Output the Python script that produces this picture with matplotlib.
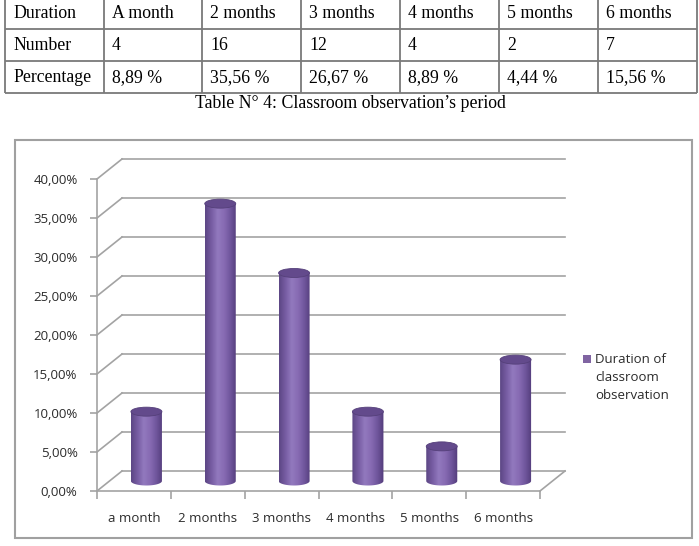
import numpy as np
import matplotlib
matplotlib.use("Agg")
import matplotlib.pyplot as plt
from matplotlib.patches import Rectangle, Ellipse, PathPatch
from matplotlib.path import Path
from matplotlib.colors import LinearSegmentedColormap
from matplotlib.transforms import ScaledTranslation

# ---------------- data ----------------
durations = ["A month", "2 months", "3 months", "4 months", "5 months", "6 months"]
numbers = [4, 16, 12, 4, 2, 7]
percentages = [8.89, 35.56, 26.67, 8.89, 4.44, 15.56]
categories = ["a month", "2 months", "3 months", "4 months", "5 months", "6 months"]
y_ticks = [0, 5, 10, 15, 20, 25, 30, 35, 40]
series_name = "Duration of\nclassroom\nobservation"
caption = "Table N° 4: Classroom observation\u2019s period"

W, H, DPI = 699, 546, 100
fig = plt.figure(figsize=(W / DPI, H / DPI), dpi=DPI)
fig.patch.set_facecolor("white")

def fx(px):
    return px / W

def fy(py):
    return 1 - py / H

# ---------------- table (pixel axes) ----------------
axt = fig.add_axes([0, 0, 1, 1])
axt.set_xlim(0, W)
axt.set_ylim(H, 0)
axt.axis("off")
tcol = "#7a7a7a"
col_x = [5, 104, 202, 301, 400, 499, 598, 697]
row_y = [-3, 29, 61, 93]
for x in col_x:
    axt.plot([x, x], [row_y[0], row_y[-1]], color=tcol, lw=1.3, solid_capstyle="butt")
for y in row_y:
    axt.plot([col_x[0], col_x[-1]], [y, y], color=tcol, lw=1.3, solid_capstyle="butt")
rows = [["Duration"] + durations,
        ["Number"] + [str(n) for n in numbers],
        ["Percentage"] + [("%.2f" % p).replace(".", ",") + " %" for p in percentages]]
for r, row in enumerate(rows):
    yc = (row_y[r] + row_y[r + 1]) / 2 + 1
    for c, txt in enumerate(row):
        axt.text(col_x[c] + 8, yc, txt, ha="left", va="center",
                 fontsize=12.8, family="Liberation Serif", color="black")
axt.text(350, 103, caption, ha="center", va="center",
         fontsize=12.8, family="Liberation Serif", color="black")

# chart outer frame
fig.add_artist(Rectangle((fx(15), fy(538)), fx(692) - fx(15), fy(140) - fy(538),
                         transform=fig.transFigure, fill=False,
                         edgecolor="#a0a0a0", lw=1.5))

# ---------------- chart axes (front plane) ----------------
x_left, x_right, y_zero, y_top = 97, 540, 491, 179
ax = fig.add_axes([fx(x_left), fy(y_zero), fx(x_right) - fx(x_left), fy(y_top) - fy(y_zero)])
ax.set_facecolor("none")
n = len(categories)
ax.set_xlim(-0.5, n - 0.5)
ax.set_ylim(0, 40)

grid_c = "#a3a3a3"
font = "Open Sans"
fs = 9.5
txt_c = "#2b2b2b"
DX, DY = 25, 20  # depth offset in pixels
back = ax.transData + ScaledTranslation(DX / DPI, DY / DPI, fig.dpi_scale_trans)
mid = ax.transData + ScaledTranslation(DX / 2 / DPI, DY / 2 / DPI, fig.dpi_scale_trans)

for s in ["top", "right"]:
    ax.spines[s].set_visible(False)
for s in ["left", "bottom"]:
    ax.spines[s].set_color(grid_c)
    ax.spines[s].set_linewidth(1.2)

ax.set_yticks(y_ticks)
ax.set_yticklabels([("%.2f" % v).replace(".", ",") + "%" for v in y_ticks],
                   fontsize=fs, family=font, color=txt_c)
ax.tick_params(axis="y", direction="out", length=5, width=1.2, color=grid_c, pad=9)

ax.set_xticks(np.arange(n + 1) - 0.5)
ax.set_xticklabels([])
ax.tick_params(axis="x", which="major", direction="out", length=6, width=1.2, color=grid_c)
ax.set_xticks(np.arange(n), minor=True)
ax.set_xticklabels(categories, minor=True, fontsize=fs, family=font, color=txt_c)
ax.tick_params(axis="x", which="minor", length=0, pad=15)

# back-wall gridlines and left-side diagonals
for v in y_ticks:
    ax.plot([-0.5, n - 0.5], [v, v], color=grid_c, lw=1.2, transform=back, clip_on=False)
    p0 = ax.transData.transform((-0.5, v))
    ax.plot([p0[0], p0[0] + DX], [p0[1], p0[1] + DY], color=grid_c, lw=1.2,
            transform=None, clip_on=False)
# floor right edge
p0 = ax.transData.transform((n - 0.5, 0))
ax.plot([p0[0], p0[0] + DX], [p0[1], p0[1] + DY], color=grid_c, lw=1.2,
        transform=None, clip_on=False)

# ---------------- cylinders ----------------
px_per_unit_y = (y_zero - y_top) / 40.0
bw = 0.42
eh = 9 / px_per_unit_y
cmap = LinearSegmentedColormap.from_list(
    "cyl", ["#5c4684", "#765ca2", "#9279be", "#876bb3", "#6f559c", "#523c7a"])
grad = cmap(np.linspace(0, 1, 256))[None, :, :]

for i, v in enumerate(percentages):
    xl, xr = i - bw / 2, i + bw / 2
    t = np.linspace(np.pi, 2 * np.pi, 40)
    arc = np.column_stack([i + bw / 2 * np.cos(t), eh / 2 * np.sin(t)])
    verts = np.vstack([[xl, v], [xl, 0], arc, [xr, 0], [xr, v], [xl, v]])
    codes = [Path.MOVETO] + [Path.LINETO] * (len(verts) - 2) + [Path.CLOSEPOLY]
    body = PathPatch(Path(verts, codes), facecolor="none", edgecolor="none",
                     transform=mid)
    ax.add_patch(body)
    im = ax.imshow(grad, extent=[xl, xr, -eh / 2 - 0.1, v], aspect="auto",
                   transform=mid, interpolation="bilinear", zorder=3)
    im.set_clip_path(body)
    top = Ellipse((i, v), bw, eh, facecolor="#634a8c", edgecolor="#55407a",
                  lw=0.6, transform=mid, zorder=4, clip_on=False)
    ax.add_patch(top)

ax.set_xlim(-0.5, n - 0.5)
ax.set_ylim(0, 40)

# ---------------- legend ----------------
fig.add_artist(Rectangle((fx(583), fy(363)), fx(591) - fx(583), fy(355) - fy(363),
                         transform=fig.transFigure, facecolor="#8064a2",
                         edgecolor="none"))
fig.text(fx(595), fy(353), series_name, ha="left", va="top", fontsize=fs,
         family=font, color=txt_c, linespacing=1.52)

fig.savefig("out.png", dpi=DPI, facecolor="white")
